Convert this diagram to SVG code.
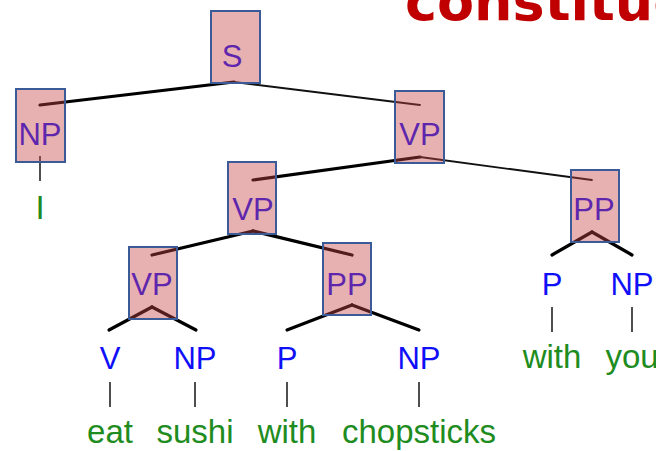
<svg xmlns="http://www.w3.org/2000/svg" width="656" height="451" viewBox="0 0 656 451">
  <style>
    .lbl { font-family: "Liberation Sans", Arial, sans-serif; font-size: 31px; fill: #1010f8; text-anchor: middle; }
    .word { font-family: "Liberation Sans", Arial, sans-serif; font-size: 33px; fill: #1e8c1e; text-anchor: middle; }
    .title { font-family: "DejaVu Sans", Verdana, sans-serif; font-weight: bold; font-size: 54px; fill: #c00000; }
    .box { fill: rgb(200,70,70); fill-opacity: 0.42; stroke: #3b5a98; stroke-width: 2; }
    .thick { stroke: #000; stroke-width: 3.2; fill: none; stroke-linecap: round; }
    .thin { stroke: #111; stroke-width: 1.8; fill: none; stroke-linecap: round; }
    .leaf { stroke: #222; stroke-width: 1.6; }
  </style>

  <!-- heading, cropped by the top edge -->
  <text class="title" x="405" y="20">constitue</text>

  <!-- tree edges -->
  <g id="connectors">
    <line class="thick" x1="234" y1="82" x2="40" y2="105"/>
    <line class="thin" x1="234" y1="82" x2="420" y2="105"/>
    <line class="thick" x1="420" y1="157" x2="253" y2="180"/>
    <line class="thin" x1="420" y1="157" x2="592" y2="180"/>
    <line class="thick" x1="253" y1="231" x2="152" y2="255"/>
    <line class="thick" x1="253" y1="231" x2="352" y2="255"/>
    <line class="thick" x1="152" y1="307" x2="109" y2="330"/>
    <line class="thick" x1="152" y1="307" x2="196" y2="330"/>
    <line class="thick" x1="352" y1="305" x2="287" y2="330"/>
    <line class="thick" x1="352" y1="305" x2="419" y2="330"/>
    <line class="thick" x1="592" y1="232" x2="552" y2="255"/>
    <line class="thick" x1="592" y1="232" x2="632" y2="255"/>
    <!-- preterminal to word -->
    <line class="leaf" x1="40" y1="156" x2="40" y2="181"/>
    <line class="leaf" x1="110" y1="382" x2="110" y2="407"/>
    <line class="leaf" x1="195" y1="382" x2="195" y2="407"/>
    <line class="leaf" x1="287" y1="382" x2="287" y2="407"/>
    <line class="leaf" x1="419" y1="382" x2="419" y2="407"/>
    <line class="leaf" x1="552" y1="307" x2="552" y2="332"/>
    <line class="leaf" x1="632" y1="307" x2="632" y2="332"/>
  </g>

  <!-- highlighted constituents -->
  <g id="node-S">
    <text class="lbl" x="232" y="67">S</text>
    <rect class="box" x="211" y="11" width="49" height="72"/>
  </g>
  <g id="node-NP-I">
    <text class="lbl" x="40" y="145">NP</text>
    <rect class="box" x="16" y="89" width="49" height="73"/>
    <text class="word" x="40" y="219">I</text>
  </g>
  <g id="node-VP-top">
    <text class="lbl" x="420" y="145">VP</text>
    <rect class="box" x="395" y="91" width="49" height="72"/>
  </g>
  <g id="node-VP-mid">
    <text class="lbl" x="253" y="220">VP</text>
    <rect class="box" x="228" y="162" width="48" height="72"/>
  </g>
  <g id="node-PP-right">
    <text class="lbl" x="594" y="220">PP</text>
    <rect class="box" x="571" y="170" width="48" height="72"/>
  </g>
  <g id="node-VP-low">
    <text class="lbl" x="152" y="295">VP</text>
    <rect class="box" x="129" y="247" width="48" height="72"/>
  </g>
  <g id="node-PP-mid">
    <text class="lbl" x="347" y="295">PP</text>
    <rect class="box" x="323" y="243" width="48" height="72"/>
  </g>

  <!-- preterminals and words -->
  <g id="node-V-eat">
    <text class="lbl" x="110" y="369">V</text>
    <text class="word" x="110" y="443">eat</text>
  </g>
  <g id="node-NP-sushi">
    <text class="lbl" x="195" y="369">NP</text>
    <text class="word" x="195" y="443">sushi</text>
  </g>
  <g id="node-P-with">
    <text class="lbl" x="287" y="369">P</text>
    <text class="word" x="287" y="443">with</text>
  </g>
  <g id="node-NP-chopsticks">
    <text class="lbl" x="419" y="369">NP</text>
    <text class="word" x="419" y="443">chopsticks</text>
  </g>
  <g id="node-P-with2">
    <text class="lbl" x="552" y="295">P</text>
    <text class="word" x="552" y="368">with</text>
  </g>
  <g id="node-NP-you">
    <text class="lbl" x="632" y="295">NP</text>
    <text class="word" x="632" y="368">you</text>
  </g>
</svg>
